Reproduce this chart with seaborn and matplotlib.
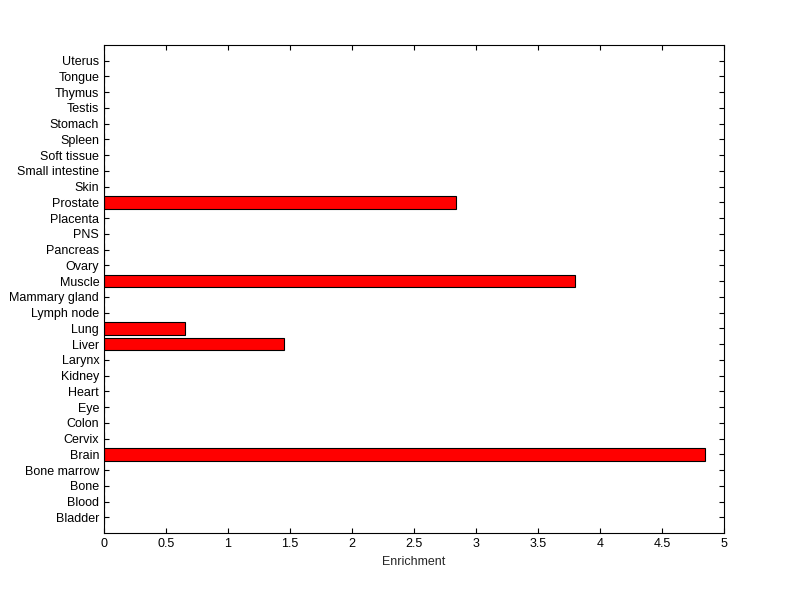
import pandas as pd
import seaborn as sns
import matplotlib.pyplot as plt

tissues = [
    "Bladder", "Blood", "Bone", "Bone marrow", "Brain", "Cervix", "Colon", "Eye",
    "Heart", "Kidney", "Larynx", "Liver", "Lung", "Lymph node", "Mammary gland",
    "Muscle", "Ovary", "Pancreas", "PNS", "Placenta", "Prostate", "Skin",
    "Small intestine", "Soft tissue", "Spleen", "Stomach", "Testis", "Thymus",
    "Tongue", "Uterus",
]
enrichment = [
    0, 0, 0, 0, 4.85, 0, 0, 0,
    0, 0, 0, 1.45, 0.655, 0, 0,
    3.80, 0, 0, 0, 0, 2.835, 0,
    0, 0, 0, 0, 0, 0,
    0, 0,
]
xticks = [0, 0.5, 1, 1.5, 2, 2.5, 3, 3.5, 4, 4.5, 5]

df = pd.DataFrame({"tissue": tissues, "enrichment": enrichment})

sns.set_style("ticks", {"xtick.direction": "in", "ytick.direction": "in",
                        "xtick.top": True, "ytick.right": True,
                        "axes.edgecolor": "black", "xtick.color": "black",
                        "ytick.color": "black"})
plt.rcParams["font.family"] = ["Liberation Sans", "DejaVu Sans"]

fig = plt.figure(figsize=(8, 5.99), dpi=100)
ax = fig.add_axes([0.13, 0.11, 0.775, 0.815])

# seaborn puts the first category on top, so feed the order reversed
sns.barplot(data=df, x="enrichment", y="tissue", order=tissues[::-1],
            orient="h", color="#ff0000", saturation=1, width=0.8,
            edgecolor="black", linewidth=0.8, ax=ax)

ax.set_xlim(0, 5)
ax.set_ylim(len(tissues), -1)
ax.set_xticks(xticks)
ax.set_xticklabels([f"{t:g}" for t in xticks])
ax.set_xlabel("Enrichment", fontsize=9)
ax.set_ylabel("")
ax.tick_params(axis="both", which="major", direction="in", length=3.6, width=0.8,
               labelsize=9, top=True, right=True, bottom=True, left=True)
for s in ax.spines.values():
    s.set_visible(True)
    s.set_linewidth(0.8)

fig.savefig("out.png", dpi=100, facecolor="white")
